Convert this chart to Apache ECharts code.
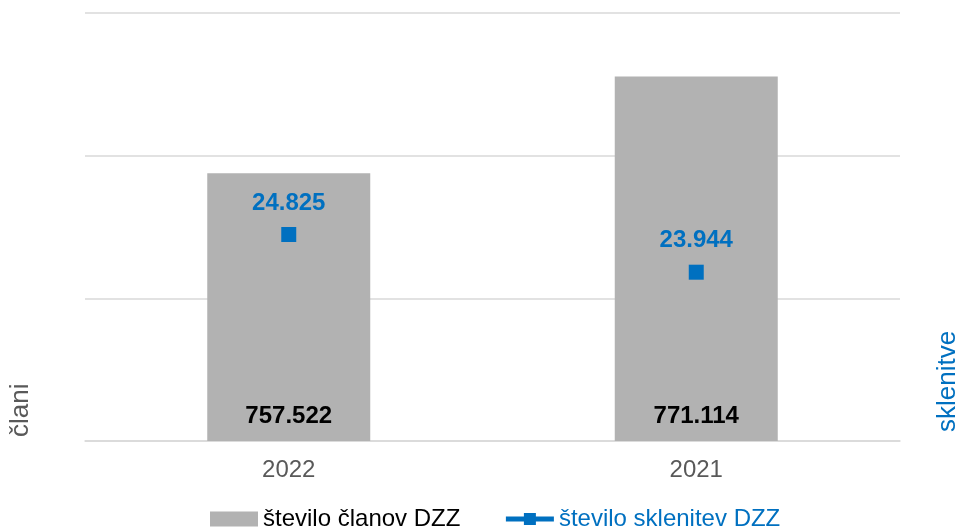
<!DOCTYPE html>
<html>
<head>
<meta charset="utf-8">
<script src="https://cdn.jsdelivr.net/npm/echarts@6/dist/echarts.min.js"></script>
<style>html,body{margin:0;padding:0;background:#fff}#c{width:957px;height:532px}</style>
</head>
<body>
<div id="c"></div>
<script>
const categories = ['2022', '2021'];
const clani = [757522, 771114];
const sklenitve = [24825, 23944];
const seriesNames = ['število članov DZZ', 'število sklenitev DZZ'];
const axisNames = ['člani', 'sklenitve'];

const FONT = '"Liberation Sans", Arial, sans-serif';
const GRAY = '#b2b2b2';
const BLUE = '#0070c0';
function fmt(v) { return String(v).replace(/\B(?=(\d{3})+(?!\d))/g, '.'); }

const chart = echarts.init(document.getElementById('c'));
chart.setOption({
  animation: false,
  backgroundColor: '#fff',
  textStyle: { fontFamily: FONT },
  grid: { left: 85, right: 57, top: 13, bottom: 91 },
  xAxis: {
    type: 'category',
    data: categories,
    axisTick: { show: false },
    axisLine: { lineStyle: { color: '#d9d9d9', width: 1.5 } },
    axisLabel: { color: '#595959', fontSize: 24, fontFamily: FONT, margin: 17 }
  },
  yAxis: [
    {
      type: 'value', min: 720000, max: 780000, interval: 20000,
      axisLabel: { show: false }, axisLine: { show: false }, axisTick: { show: false },
      splitLine: { lineStyle: { color: '#d9d9d9', width: 1.5 } }
    },
    {
      type: 'value', min: 20000, max: 30000,
      axisLabel: { show: false }, axisLine: { show: false }, axisTick: { show: false },
      splitLine: { show: false }
    }
  ],
  legend: {
    bottom: -4,
    left: 205,
    itemGap: 43,
    itemWidth: 48,
    itemHeight: 15,
    textStyle: { fontSize: 24, fontFamily: FONT },
    data: [
      { name: seriesNames[0], icon: 'rect', textStyle: { color: '#000' } },
      { name: seriesNames[1], textStyle: { color: BLUE }, lineStyle: { width: 5, color: BLUE, opacity: 1 } }
    ]
  },
  graphic: [
    { type: 'text', x: 8, y: 437, rotation: Math.PI / 2,
      style: { text: axisNames[0], fontSize: 26, fontFamily: FONT, fill: '#595959' } },
    { type: 'text', x: 935, y: 432, rotation: Math.PI / 2,
      style: { text: axisNames[1], fontSize: 26, fontFamily: FONT, fill: BLUE } }
  ],
  series: [
    {
      name: seriesNames[0], type: 'bar', data: clani, barWidth: '40%',
      itemStyle: { color: GRAY },
      label: { show: true, position: 'insideBottom', distance: 13, formatter: p => fmt(p.value),
        color: '#000', fontWeight: 'bold', fontSize: 24, fontFamily: FONT }
    },
    {
      name: seriesNames[1], type: 'line', yAxisIndex: 1, data: sklenitve,
      symbol: 'rect', symbolSize: 15,
      itemStyle: { color: BLUE },
      lineStyle: { opacity: 0 },
      label: { show: true, position: 'top', distance: 12, formatter: p => fmt(p.value),
        color: BLUE, fontWeight: 'bold', fontSize: 24, fontFamily: FONT }
    }
  ]
});
</script>
</body>
</html>
